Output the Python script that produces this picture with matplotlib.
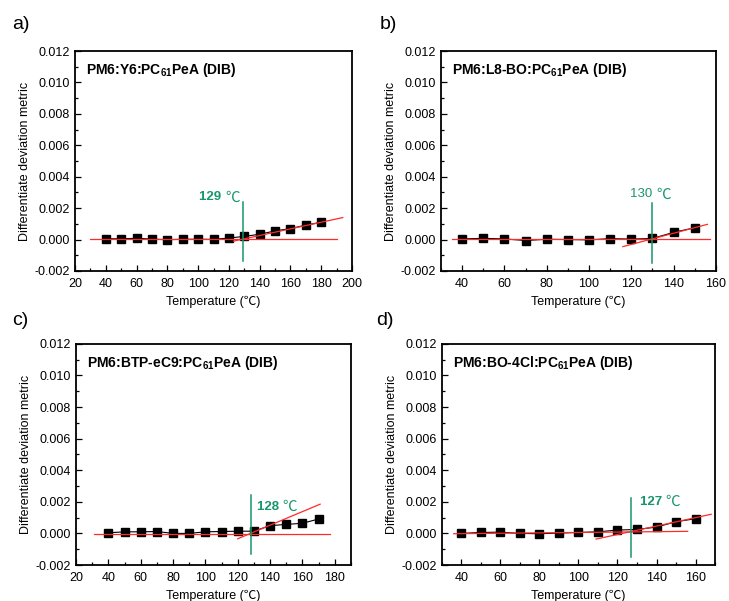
import matplotlib
matplotlib.use("Agg")
import matplotlib.pyplot as plt
from matplotlib.ticker import MultipleLocator, FormatStrFormatter

plt.rcParams['font.family'] = ['Liberation Sans', 'Noto Sans CJK SC', 'DejaVu Sans']
plt.rcParams['mathtext.fontset'] = 'custom'
plt.rcParams['mathtext.rm'] = 'Liberation Sans'
plt.rcParams['mathtext.bf'] = 'Liberation Sans:bold'
plt.rcParams['axes.unicode_minus'] = False

# ---- data ----
temps_a = [40, 50, 60, 70, 80, 90, 100, 110, 120, 130, 140, 150, 160, 170, 180]
ddm_a = [0.00005, 0.00005, 0.00008, 0.00003, -0.00001, 0.00002, 0.00002, 0.00001,
         0.00010, 0.00020, 0.00034, 0.00055, 0.00070, 0.00092, 0.00110]

temps_b = [40, 50, 60, 70, 80, 90, 100, 110, 120, 130, 140, 150]
ddm_b = [0.00004, 0.00008, 0.00004, -0.00006, 0.00002, 0.00000, -0.00002, 0.00006,
         0.00003, 0.00007, 0.00046, 0.00075]

temps_c = [40, 50, 60, 70, 80, 90, 100, 110, 120, 130, 140, 150, 160, 170]
ddm_c = [0.00004, 0.00010, 0.00010, 0.00012, 0.00000, 0.00000, 0.00010, 0.00012,
         0.00014, 0.00014, 0.00049, 0.00057, 0.00064, 0.00091]

temps_d = [40, 50, 60, 70, 80, 90, 100, 110, 120, 130, 140, 150, 160]
ddm_d = [0.00000, 0.00006, 0.00008, 0.00000, -0.00002, 0.00002, 0.00006, 0.00010,
         0.00021, 0.00025, 0.00040, 0.00074, 0.00093]

# linear fits below / above the transition: (x_start, x_end), (y_start, y_end)
low_fit_x = [(30, 190), (35, 157), (31, 177), (36, 156)]
low_fit_y = [(0.00003, 0.00003), (0.00006, 0.00006), (-0.00002, -0.00002), (-0.00002, 0.00013)]
high_fit_x = [(123, 194), (116, 156), (120, 171), (109, 168)]
high_fit_y = [(-0.00010, 0.00140), (-0.00045, 0.00097), (-0.00034, 0.00185), (-0.00036, 0.00121)]

# transition temperatures
tg_values = [129, 130, 128, 127]
tg_bold = [True, False, True, True]
tg_line_y = [(-0.00136, 0.0024), (-0.00147, 0.0023), (-0.0013, 0.00245), (-0.00148, 0.00226)]

titles = [r'PM6:Y6:PC$_{\mathbf{61}}$PeA (DIB)',
          r'PM6:L8-BO:PC$_{\mathbf{61}}$PeA (DIB)',
          r'PM6:BTP-eC9:PC$_{\mathbf{61}}$PeA (DIB)',
          r'PM6:BO-4Cl:PC$_{\mathbf{61}}$PeA (DIB)']
panel_letters = ['a)', 'b)', 'c)', 'd)']
xlims = [(20, 200), (30, 160), (20, 190), (30, 170)]
xtick_starts = [20, 40, 20, 40]

temps = [temps_a, temps_b, temps_c, temps_d]
ddms = [ddm_a, ddm_b, ddm_c, ddm_d]

GREEN = '#17966a'
RED = '#ff2a2a'
CJK = ['Noto Sans CJK SC', 'DejaVu Sans']

fig = plt.figure(figsize=(7.29, 6.01), dpi=100)
positions = [
    [0.1029, 0.5491, 0.380, 0.366],
    [0.6050, 0.5491, 0.377, 0.366],
    [0.1043, 0.0599, 0.377, 0.368],
    [0.6063, 0.0599, 0.3745, 0.368],
]
letter_pos = [(0.016, 0.952), (0.521, 0.952), (0.016, 0.459), (0.516, 0.459)]

# label placement for the transition temperature: (x, y, horizontal alignment)
tg_label = [(127, 0.0024, 'right'), (129.5, 0.0027, 'center'),
            (132, 0.0015, 'left'), (131.5, 0.0018, 'left')]

for i in range(4):
    ax = fig.add_axes(positions[i])
    x, y = temps[i], ddms[i]

    ax.plot(x, y, color='black', lw=0.8, marker='s', ms=5.2, zorder=3)
    ax.plot(low_fit_x[i], low_fit_y[i], color=RED, lw=0.9, zorder=4)
    ax.plot(high_fit_x[i], high_fit_y[i], color=RED, lw=0.9, zorder=4)
    ax.plot([tg_values[i], tg_values[i]], tg_line_y[i], color=GREEN, lw=1.1, zorder=5)

    lx, ly, ha = tg_label[i]
    weight = 'bold' if tg_bold[i] else 'normal'
    if ha == 'right':
        t2 = ax.text(lx, ly, '\u2103', color=GREEN, fontsize=10.5, ha='right', va='baseline',
                     family=CJK)
        ax.annotate(f'{tg_values[i]} ', xy=(0, 0.1), xycoords=t2, ha='right', va='bottom',
                    color=GREEN, fontsize=9.5, fontweight=weight)
    elif ha == 'center':
        t1 = ax.text(lx - 4, ly, f'{tg_values[i]} ', color=GREEN, fontsize=9.5, ha='center',
                     va='baseline', fontweight=weight)
        ax.annotate('\u2103', xy=(1, -0.1), xycoords=t1, ha='left', va='bottom',
                    color=GREEN, fontsize=10.5, family=CJK)
    else:
        t1 = ax.text(lx, ly, f'{tg_values[i]} ', color=GREEN, fontsize=9.5, ha='left',
                     va='baseline', fontweight=weight)
        ax.annotate('\u2103', xy=(1, -0.1), xycoords=t1, ha='left', va='bottom',
                    color=GREEN, fontsize=10.5, family=CJK)

    ax.text(0.04, 0.955, titles[i], transform=ax.transAxes, fontsize=10, fontweight='bold',
            ha='left', va='top')

    ax.set_xlim(*xlims[i])
    ax.set_ylim(-0.002, 0.012)
    ax.set_xticks(list(range(xtick_starts[i], xlims[i][1] + 1, 20)))
    ax.xaxis.set_minor_locator(MultipleLocator(10))
    ax.yaxis.set_major_locator(MultipleLocator(0.002))
    ax.yaxis.set_minor_locator(MultipleLocator(0.001))
    ax.yaxis.set_major_formatter(FormatStrFormatter('%.3f'))
    ax.tick_params(which='both', direction='in', top=False, right=False, labelsize=9,
                   width=0.9)
    ax.tick_params(axis='y', which='both', pad=4)
    ax.tick_params(axis='x', which='both', pad=5)
    ax.tick_params(which='major', length=4)
    ax.tick_params(which='minor', length=2.5)
    for s in ax.spines.values():
        s.set_linewidth(1.3)

    ax.set_xlabel('Temperature (\u2103)', fontsize=9, labelpad=4, family=['Liberation Sans'] + CJK)
    ax.set_ylabel('Differentiate deviation metric', fontsize=9, labelpad=2)

    fig.text(letter_pos[i][0], letter_pos[i][1], panel_letters[i], fontsize=14,
             ha='left', va='baseline')

fig.savefig('out.png', dpi=100)
